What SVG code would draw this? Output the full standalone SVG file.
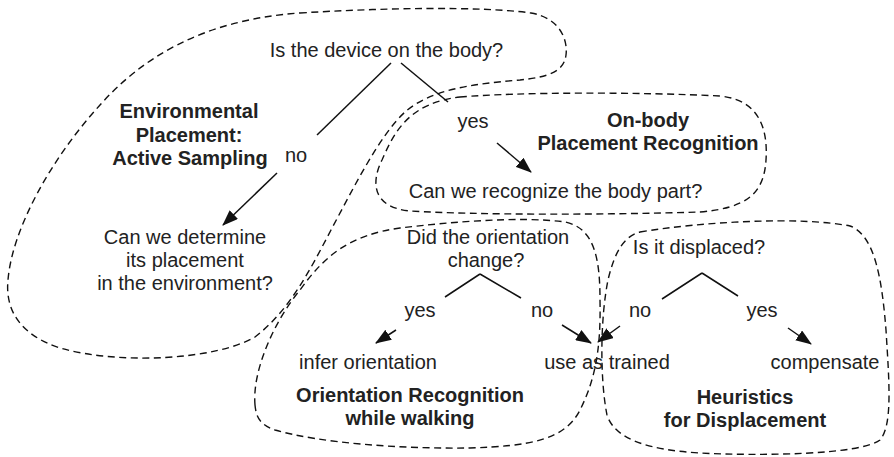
<svg xmlns="http://www.w3.org/2000/svg" width="894" height="457" viewBox="0 0 894 457">
  <style>
    .region { fill: none; stroke: #111; stroke-width: 1.4; stroke-dasharray: 7 4.5; }
    .t { font-family: "Liberation Sans", Arial, sans-serif; font-size: 20px; fill: #222; text-anchor: middle; }
    .b { font-weight: bold; }
    .edge { fill: none; stroke: #111; stroke-width: 1.5; }
    .arrow { marker-end: url(#head); }
  </style>
  <defs>
    <marker id="head" viewBox="0 0 16 12" refX="15" refY="6" markerWidth="16" markerHeight="12" markerUnits="userSpaceOnUse" orient="auto">
      <path d="M0,0 L16,6 L0,12 Z" fill="#111"/>
    </marker>
  </defs>

  <!-- dashed regions -->
  <g id="region-environmental">
    <path class="region" d="M 300,13 C 380,8 480,6 531,13 C 560,18 568,40 566,55 C 564,72 548,77 520,80 C 470,84 430,90 405,112 C 380,135 355,185 331,230 C 310,270 290,310 255,337 C 215,360 120,365 60,348 C 20,335 5,310 8,280 C 12,230 50,160 100,105 C 140,60 200,20 300,13 Z"/>
    <text class="t b" x="189" y="118">Environmental</text>
    <text class="t b" x="189" y="142">Placement:</text>
    <text class="t b" x="190" y="165">Active Sampling</text>
  </g>
  <g id="region-onbody">
    <path class="region" d="M 460,97 C 520,92 640,92 720,96 C 760,100 768,130 766,160 C 764,195 745,208 700,212 C 600,215 480,215 410,211 C 370,207 372,180 382,160 C 395,130 410,103 460,97 Z"/>
    <text class="t b" x="648" y="127">On-body</text>
    <text class="t b" x="648" y="150">Placement Recognition</text>
  </g>
  <g id="region-orientation">
    <path class="region" d="M 255,405 C 252,370 275,320 300,290 C 325,255 350,235 400,228 C 450,222 520,216 565,222 C 595,228 600,260 600,300 C 601,350 595,380 580,410 C 565,440 530,446 470,448 C 400,449 320,443 275,430 C 258,424 256,415 255,405 Z"/>
    <text class="t b" x="410" y="402">Orientation Recognition</text>
    <text class="t b" x="410" y="425">while walking</text>
  </g>
  <g id="region-displacement">
    <path class="region" d="M 640,232 C 700,222 800,216 850,226 C 875,235 882,280 886,330 C 889,380 893,425 880,440 C 860,455 760,456 700,453 C 650,450 615,440 607,415 C 600,380 600,320 608,280 C 615,250 625,236 640,232 Z"/>
    <text class="t b" x="745" y="404">Heuristics</text>
    <text class="t b" x="745" y="427">for Displacement</text>
  </g>

  <!-- question and outcome nodes -->
  <g id="q-on-body"><text class="t" x="386.5" y="57">Is the device on the body?</text></g>
  <g id="q-environment">
    <text class="t" x="185" y="244">Can we determine</text>
    <text class="t" x="185" y="267">its placement</text>
    <text class="t" x="185" y="290">in the environment?</text>
  </g>
  <g id="q-body-part"><text class="t" x="555.5" y="198">Can we recognize the body part?</text></g>
  <g id="q-orientation">
    <text class="t" x="488" y="244">Did the orientation</text>
    <text class="t" x="486" y="267">change?</text>
  </g>
  <g id="q-displaced"><text class="t" x="699" y="254">Is it displaced?</text></g>
  <g id="o-infer"><text class="t" x="368" y="369">infer orientation</text></g>
  <g id="o-use-trained"><text class="t" x="607" y="369">use as trained</text></g>
  <g id="o-compensate"><text class="t" x="825" y="369">compensate</text></g>

  <!-- connectors with their labels -->
  <g id="connectors">
    <path class="edge" d="M 391,63 L 317,135"/>
    <path class="edge" d="M 401,63 L 448,102"/>
    <path class="edge arrow" d="M 277,173 L 223,225"/>
    <path class="edge arrow" d="M 497,143 L 531,172"/>
    <path class="edge" d="M 480,274 L 445,297 M 480,274 L 521,298"/>
    <path class="edge arrow" d="M 396,330 L 376,343"/>
    <path class="edge arrow" d="M 562,325 L 591,343"/>
    <path class="edge" d="M 702,273 L 662,299 M 702,273 L 738,296"/>
    <path class="edge arrow" d="M 620,326 L 598,342"/>
    <path class="edge arrow" d="M 788,328 L 811,344"/>
    <text class="t" x="296" y="162">no</text>
    <text class="t" x="473" y="128">yes</text>
    <text class="t" x="420" y="317">yes</text>
    <text class="t" x="542" y="317">no</text>
    <text class="t" x="640" y="317">no</text>
    <text class="t" x="762" y="317">yes</text>
  </g>
</svg>
